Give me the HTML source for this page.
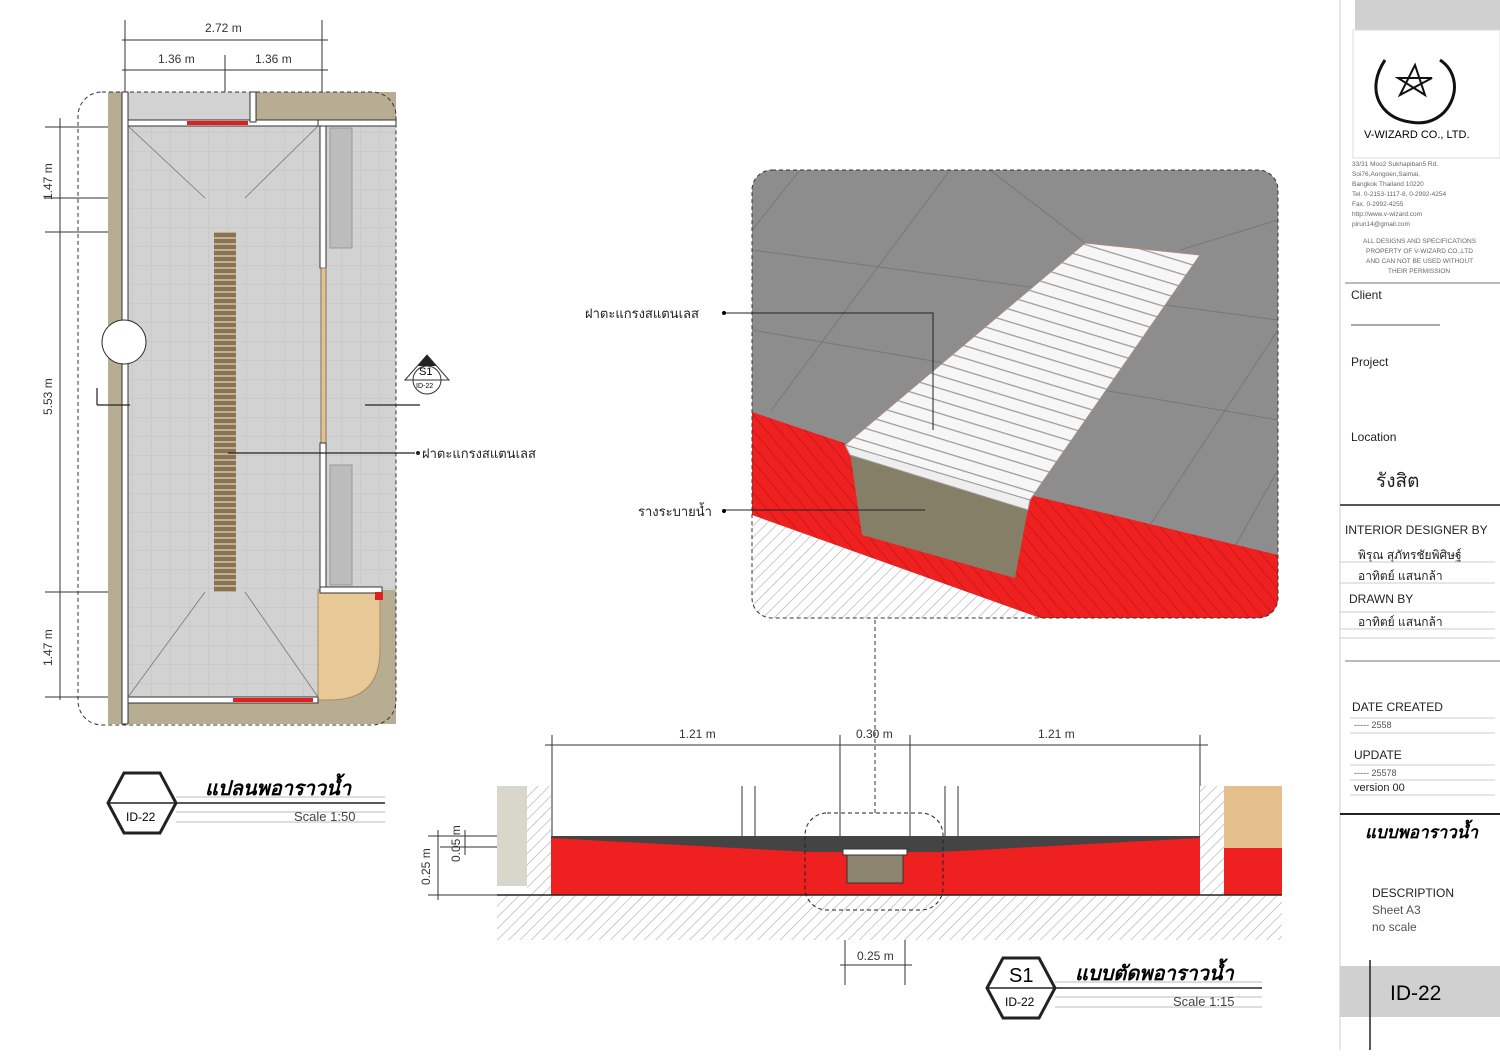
<!DOCTYPE html>
<html><head><meta charset="utf-8"><style>
html,body{margin:0;padding:0;background:#fff}
svg{display:block}
text{font-family:"Liberation Sans","DejaVu Sans",sans-serif}
</style></head><body>
<svg width="1500" height="1060" viewBox="0 0 1500 1060" xmlns="http://www.w3.org/2000/svg">
<defs>
<pattern id="hatch" width="8" height="8" patternUnits="userSpaceOnUse" patternTransform="rotate(45)">
<rect width="8" height="8" fill="#fff"/><line x1="0" y1="0" x2="0" y2="8" stroke="#aaa" stroke-width="1.2"/></pattern>
<pattern id="rhatch" width="10" height="10" patternUnits="userSpaceOnUse" patternTransform="rotate(-40)">
<rect width="10" height="10" fill="#ee2020"/><line x1="0" y1="0" x2="0" y2="10" stroke="#b01010" stroke-width="1"/></pattern>
<pattern id="grid" width="19" height="19" patternUnits="userSpaceOnUse">
<rect width="19" height="19" fill="#d2d2d2"/><path d="M19 0V19H0" fill="none" stroke="#c2c2c2" stroke-width="1"/></pattern>
<pattern id="grate" width="12" height="12" patternUnits="userSpaceOnUse" patternTransform="rotate(17)">
<rect width="12" height="12" fill="#f6f6f6"/><line x1="0" y1="0" x2="12" y2="0" stroke="#9a9a9a" stroke-width="2.5"/></pattern>
<pattern id="drain" width="22" height="6" patternUnits="userSpaceOnUse">
<rect width="22" height="6" fill="#8a7255"/><rect y="3" width="22" height="2" fill="#c2ae8c"/></pattern>
</defs>

<!-- PLAN -->
<g stroke="#333" fill="none" stroke-width="1">
<line x1="122" y1="40" x2="328" y2="40"/><line x1="122" y1="70" x2="328" y2="70"/>
<line x1="125" y1="20" x2="125" y2="95"/><line x1="225" y1="55" x2="225" y2="200"/><line x1="322" y1="20" x2="322" y2="95"/>
<line x1="60" y1="118" x2="60" y2="700"/>
<line x1="45" y1="127" x2="120" y2="127"/><line x1="45" y1="198" x2="205" y2="198"/><line x1="45" y1="232" x2="205" y2="232"/><line x1="45" y1="592" x2="205" y2="592"/><line x1="45" y1="697" x2="120" y2="697"/>
</g>
<g fill="#333" font-size="12">
<text x="205" y="32">2.72 m</text><text x="158" y="63">1.36 m</text><text x="255" y="63">1.36 m</text>
<text transform="translate(52,200) rotate(-90)">1.47 m</text>
<text transform="translate(52,415) rotate(-90)">5.53 m</text>
<text transform="translate(52,666) rotate(-90)">1.47 m</text>
</g>
<rect x="108" y="92" width="288" height="632" fill="#b7ad92"/>
<rect x="128" y="92" width="128" height="28" fill="#d2d2d2"/>
<rect x="128" y="120" width="190" height="580" fill="url(#grid)"/>
<rect x="318" y="120" width="78" height="470" fill="url(#grid)"/>
<rect x="330" y="128" width="22" height="120" fill="#bcbcbc" stroke="#999"/>
<rect x="330" y="465" width="22" height="120" fill="#bcbcbc" stroke="#999"/>
<path d="M318 590 H380 V650 Q380 700 330 700 H318 Z" fill="#e7c998" stroke="#b08a5a"/>
<rect x="122" y="92" width="6" height="632" fill="#fff" stroke="#333"/>
<rect x="128" y="120" width="190" height="6" fill="#fff" stroke="#333"/>
<rect x="318" y="120" width="78" height="6" fill="#fff" stroke="#333"/>
<rect x="250" y="92" width="6" height="30" fill="#fff" stroke="#333"/>
<rect x="320" y="126" width="6" height="142" fill="#fff" stroke="#333"/>
<rect x="321" y="268" width="5" height="175" fill="#e8c08a" stroke="#777"/>
<rect x="320" y="443" width="6" height="150" fill="#fff" stroke="#333"/>
<rect x="320" y="587" width="62" height="6" fill="#fff" stroke="#333"/>
<rect x="128" y="697" width="190" height="6" fill="#fff" stroke="#333"/>
<rect x="187" y="121" width="61" height="4" fill="#e02020"/>
<rect x="233" y="698" width="80" height="4" fill="#e02020"/>
<rect x="375" y="592" width="8" height="8" fill="#e02020"/>
<g stroke="#777" stroke-width="0.8"><line x1="128" y1="126" x2="205" y2="198"/><line x1="318" y1="126" x2="245" y2="198"/><line x1="128" y1="697" x2="205" y2="592"/><line x1="318" y1="697" x2="245" y2="592"/></g>
<rect x="214" y="232" width="22" height="360" fill="url(#drain)"/>
<circle cx="124" cy="342" r="22" fill="#fff" stroke="#333"/>
<rect x="78" y="92" width="318" height="633" rx="24" fill="none" stroke="#333" stroke-dasharray="4,3"/>
<g stroke="#222" stroke-width="1.2"><line x1="97" y1="405" x2="130" y2="405"/><line x1="97" y1="388" x2="97" y2="405"/><line x1="365" y1="405" x2="420" y2="405"/>
<line x1="228" y1="453" x2="415" y2="453"/></g>
<circle cx="418" cy="453" r="2" fill="#222"/>
<text x="422" y="458" font-size="13" fill="#222">ฝาตะแกรงสแตนเลส</text>
<circle cx="427" cy="380" r="14" fill="#fff" stroke="#333"/><line x1="413" y1="380" x2="441" y2="380" stroke="#333"/>
<path d="M405 380 L427 355 L449 380 Z" fill="none" stroke="#333"/><path d="M418 366 L427 355 L436 366Z" fill="#222"/>
<text x="419" y="375" font-size="11">S1</text><text x="416" y="388" font-size="7">ID-22</text>

<!-- Plan title -->
<polygon points="108,803 124,773 160,773 176,803 160,833 124,833" fill="#fff" stroke="#222" stroke-width="3"/>
<line x1="108" y1="803" x2="385" y2="803" stroke="#222" stroke-width="1.5"/>
<line x1="176" y1="797" x2="385" y2="797" stroke="#bbb"/><line x1="176" y1="812" x2="385" y2="812" stroke="#bbb"/><line x1="176" y1="822" x2="385" y2="822" stroke="#bbb"/>
<text x="126" y="821" font-size="12">ID-22</text>
<text x="205" y="795" font-size="20" font-weight="bold" font-style="italic">แปลนพอาราวน้ำ</text>
<text x="294" y="821" font-size="13" fill="#444">Scale 1:50</text>

<!-- 3D VIEW -->
<clipPath id="vc"><rect x="752" y="170" width="526" height="448" rx="20"/></clipPath>
<g clip-path="url(#vc)">
<rect x="752" y="170" width="526" height="448" fill="#8d8d8d"/>
<g stroke="#777" stroke-width="1"><line x1="752" y1="250" x2="1278" y2="320"/><line x1="752" y1="330" x2="1278" y2="420"/><line x1="800" y1="170" x2="752" y2="230"/><line x1="950" y1="170" x2="770" y2="412"/><line x1="1180" y1="250" x2="1278" y2="220"/><line x1="1278" y1="330" x2="1140" y2="540"/><line x1="990" y1="170" x2="1085" y2="243"/><line x1="1278" y1="470" x2="1230" y2="555"/></g>
<polygon points="752,412 850,445 1030,495 1278,555 1278,618 1040,618 752,515" fill="url(#rhatch)"/>
<polygon points="752,515 1040,618 752,618" fill="url(#hatch)"/>
<polygon points="850,452 1030,498 1015,578 862,535" fill="#857f68"/>
<polygon points="1085,243 1200,255 1030,500 845,445" fill="url(#grate)" stroke="#a88" stroke-width="1"/>
<polygon points="845,445 1030,500 1028,510 850,455" fill="#eee" stroke="#999"/>
</g>
<rect x="752" y="170" width="526" height="448" rx="20" fill="none" stroke="#333" stroke-dasharray="4,3"/>
<g stroke="#222"><polyline points="725,313 933,313 933,430" fill="none"/><line x1="725" y1="510" x2="925" y2="510"/></g>
<circle cx="724" cy="313" r="2"/><circle cx="724" cy="511" r="2"/>
<text x="585" y="318" font-size="13" fill="#222">ฝาตะแกรงสแตนเลส</text>
<text x="638" y="516" font-size="13" fill="#222">รางระบายน้ำ</text>
<line x1="875" y1="620" x2="875" y2="815" stroke="#333" stroke-dasharray="4,3"/>

<!-- SECTION -->
<g stroke="#333" stroke-width="1" fill="none">
<line x1="545" y1="745" x2="1208" y2="745"/>
<line x1="552" y1="735" x2="552" y2="895"/><line x1="840" y1="735" x2="840" y2="895"/><line x1="910" y1="735" x2="910" y2="895"/><line x1="1200" y1="735" x2="1200" y2="895"/>
<line x1="845" y1="880" x2="845" y2="985"/><line x1="905" y1="880" x2="905" y2="985"/><line x1="840" y1="965" x2="912" y2="965"/>
<line x1="428" y1="836" x2="551" y2="836"/><line x1="428" y1="895" x2="551" y2="895"/><line x1="438" y1="830" x2="438" y2="900"/>
<line x1="465" y1="830" x2="465" y2="855"/><line x1="440" y1="847" x2="560" y2="847"/>
<line x1="905" y1="882" x2="1020" y2="882"/><line x1="1000" y1="845" x2="1000" y2="885"/>
<line x1="742" y1="786" x2="742" y2="836"/><line x1="755" y1="786" x2="755" y2="836"/><line x1="945" y1="786" x2="945" y2="836"/><line x1="958" y1="786" x2="958" y2="836"/>
</g>
<g font-size="12" fill="#333">
<text x="679" y="738">1.21 m</text><text x="856" y="738">0.30 m</text><text x="1038" y="738">1.21 m</text><text x="857" y="960">0.25 m</text>
<text transform="translate(430,885) rotate(-90)">0.25 m</text><text transform="translate(460,862) rotate(-90)">0.05 m</text><text transform="translate(988,885) rotate(-90)">0.15 m</text>
</g>
<rect x="497" y="895" width="785" height="45" fill="url(#hatch)"/>
<rect x="497" y="786" width="30" height="100" fill="#d9d6cc"/>
<rect x="527" y="786" width="24" height="109" fill="url(#hatch)"/>
<rect x="1200" y="786" width="24" height="109" fill="url(#hatch)"/>
<rect x="1224" y="786" width="58" height="62" fill="#e6c08c"/>
<rect x="1224" y="848" width="58" height="47" fill="#ee2020"/>
<rect x="551" y="836" width="649" height="59" fill="#ee2020"/>
<polygon points="551,836 1200,836 1200,838 940,852 810,852 551,838" fill="#444"/>
<rect x="843" y="849" width="64" height="6" fill="#fff" stroke="#333"/>
<rect x="847" y="855" width="56" height="28" fill="#8d8570" stroke="#333"/>
<line x1="497" y1="895" x2="1282" y2="895" stroke="#222" stroke-width="1.5"/>
<rect x="805" y="813" width="138" height="97" rx="22" fill="none" stroke="#222" stroke-dasharray="4,3"/>

<!-- Section title -->
<polygon points="987,988 1003,958 1039,958 1055,988 1039,1018 1003,1018" fill="#fff" stroke="#222" stroke-width="3"/>
<line x1="987" y1="988" x2="1262" y2="988" stroke="#222" stroke-width="1.5"/>
<line x1="1055" y1="982" x2="1262" y2="982" stroke="#bbb"/><line x1="1055" y1="997" x2="1262" y2="997" stroke="#bbb"/><line x1="1055" y1="1007" x2="1262" y2="1007" stroke="#bbb"/>
<text x="1009" y="982" font-size="20">S1</text><text x="1005" y="1006" font-size="12">ID-22</text>
<text x="1075" y="980" font-size="20" font-weight="bold" font-style="italic">แบบตัดพอาราวน้ำ</text>
<text x="1173" y="1006" font-size="13" fill="#444">Scale 1:15</text>

<!-- TITLE BLOCK -->
<rect x="1355" y="0" width="145" height="30" fill="#d0d0d0"/>
<line x1="1340" y1="0" x2="1340" y2="1050" stroke="#ccc"/>
<rect x="1353" y="30" width="147" height="128" fill="none" stroke="#ddd"/>
<g fill="none" stroke="#111" stroke-width="3"><path d="M1440 60 C1470 80 1450 130 1410 122 C1380 118 1365 90 1385 60"/><path d="M1400 95 L1415 65 L1425 95 L1398 78 L1432 78 Z" stroke-width="2"/></g>
<text x="1364" y="138" font-size="11" font-family="Liberation Serif,serif">V-WIZARD CO., LTD.</text>
<g font-size="6.5" fill="#666">
<text x="1352" y="166">33/31 Moo2 Sukhapiban5 Rd.</text><text x="1352" y="176">Soi76,Aongoen,Saimai,</text><text x="1352" y="186">Bangkok Thailand 10220</text><text x="1352" y="196">Tel. 0-2153-1117-8, 0-2992-4254</text><text x="1352" y="206">Fax. 0-2992-4255</text><text x="1352" y="216">http://www.v-wizard.com</text><text x="1352" y="226">pirun14@gmail.com</text>
<text x="1363" y="243">ALL DESIGNS AND SPECIFICATIONS</text><text x="1366" y="253">PROPERTY OF V-WIZARD CO.,LTD</text><text x="1366" y="263">AND CAN NOT BE USED WITHOUT</text><text x="1388" y="273">THEIR PERMISSION</text>
</g>
<line x1="1345" y1="283" x2="1500" y2="283" stroke="#777"/>
<g font-size="12" fill="#222"><text x="1351" y="299">Client</text><text x="1351" y="366">Project</text><text x="1351" y="441">Location</text></g>
<line x1="1351" y1="325" x2="1440" y2="325" stroke="#555"/>
<text x="1376" y="487" font-size="19" fill="#222">รังสิต</text>
<line x1="1340" y1="505" x2="1500" y2="505" stroke="#555" stroke-width="2"/>
<g font-size="12" fill="#222"><text x="1345" y="534">INTERIOR DESIGNER BY</text><text x="1349" y="603">DRAWN BY</text>
<text x="1358" y="559" font-size="12">พิรุณ สุภัทรชัยพิศิษฐ์</text><text x="1358" y="580">อาทิตย์ แสนกล้า</text><text x="1358" y="626">อาทิตย์ แสนกล้า</text>
<text x="1352" y="711">DATE CREATED</text><text x="1354" y="759">UPDATE</text>
<text x="1354" y="728" font-size="9" fill="#555">----- 2558</text><text x="1354" y="776" font-size="9" fill="#555">----- 25578</text><text x="1354" y="791" font-size="11">version 00</text>
<text x="1372" y="897">DESCRIPTION</text><text x="1372" y="914" fill="#555">Sheet  A3</text><text x="1372" y="931" fill="#555">no scale</text></g>
<g stroke="#ccc"><line x1="1340" y1="562" x2="1495" y2="562"/><line x1="1340" y1="583" x2="1495" y2="583"/><line x1="1340" y1="612" x2="1495" y2="612"/><line x1="1340" y1="629" x2="1495" y2="629"/><line x1="1340" y1="638" x2="1495" y2="638"/><line x1="1350" y1="718" x2="1495" y2="718"/><line x1="1350" y1="733" x2="1495" y2="733"/><line x1="1350" y1="765" x2="1495" y2="765"/><line x1="1350" y1="780" x2="1495" y2="780"/><line x1="1350" y1="795" x2="1495" y2="795"/></g>
<line x1="1345" y1="661" x2="1500" y2="661" stroke="#777"/>
<line x1="1340" y1="814" x2="1500" y2="814" stroke="#222" stroke-width="2"/>
<text x="1365" y="838" font-size="17" font-weight="bold" font-style="italic">แบบพอาราวน้ำ</text>
<rect x="1340" y="966" width="160" height="51" fill="#d0d0d0"/>
<line x1="1370" y1="960" x2="1370" y2="1050" stroke="#222" stroke-width="1.5"/>
<text x="1390" y="1000" font-size="21" font-family="Liberation Serif,serif">ID-22</text>
</svg>
</body></html>
